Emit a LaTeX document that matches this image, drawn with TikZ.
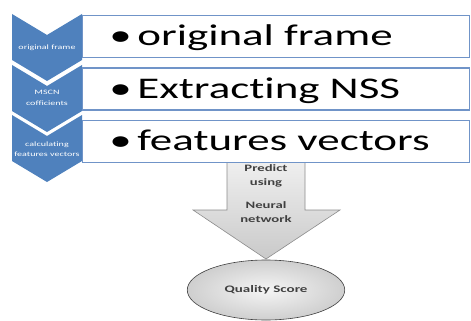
\documentclass[tikz,border=0pt]{standalone}
\usepackage{fontspec}
\setmainfont{Carlito}[Ligatures=NoCommon]
\usepackage{tikz}
\usetikzlibrary{shapes.geometric, positioning, calc}
\definecolor{chevblue}{RGB}{79,129,189}
\definecolor{boxline}{RGB}{112,148,200}
\definecolor{arrowline}{RGB}{140,140,140}
\definecolor{textgray}{RGB}{64,64,64}

\begin{document}
\begin{tikzpicture}[x=1pt, y=-1pt,
  chev/.style={fill=chevblue, draw=none},
  chevtext/.style={text=white, font=\fontsize{6.7}{10.5}\selectfont, align=center, inner sep=0pt, xscale=1.5, transform shape},
  stage/.style={rectangle, draw=boxline, line width=1.3pt, fill=white, minimum width=387pt, minimum height=42pt, inner sep=0pt},
  bigtext/.style={font=\fontsize{30}{36}\selectfont, anchor=base west, inner sep=0pt, xscale=1.5, transform shape},
  predarrow/.style={draw=arrowline, line width=0.6pt, top color=gray!12, bottom color=gray!42},
  arrowtext/.style={text=textgray, font=\bfseries\fontsize{9.8}{14}\selectfont, align=center, xscale=1.5, transform shape},
  score/.style={ellipse, draw=textgray, line width=0.6pt, inner color=gray!8, outer color=gray!38, minimum width=105pt, minimum height=60pt, text=textgray, font=\bfseries\fontsize{10}{12}\selectfont, xscale=1.5, transform shape}
]
\useasboundingbox (0,0) rectangle (471,321);
% chevrons on the left
\fill[chev] (12,14) -- (47,35) -- (82,14) -- (82,60) -- (47,81) -- (12,60) -- cycle;
\fill[chev] (12,65) -- (47,86) -- (82,65) -- (82,111) -- (47,132) -- (12,111) -- cycle;
\fill[chev] (12,115) -- (47,136) -- (82,115) -- (82,161) -- (47,182) -- (12,161) -- cycle;
\node[chevtext] (c1) at (47,48) {original frame};
\node[chevtext] (c2) at (47,98) {MSCN\\cofficients};
\node[chevtext] (c3) at (47,149) {calculating\\features vectors};
% prediction arrow
\draw[predarrow] (227,160) -- (305,160) -- (305,210) -- (340,210) -- (266,259) -- (193,210) -- (227,210) -- cycle;
\node[arrowtext] (pred) at (266,194) {Predict\\using\\[9pt]Neural\\network};
% stage boxes
\node[stage, anchor=north west] (orig) at (82,15) {};
\node[stage, below=9pt of orig] (nss) {};
\node[stage, below=9pt of nss] (feat) {};
\node[bigtext] (t1) at ($(orig.north west)+(27,31)$) {\makebox[18.7pt][l]{\textbullet}original frame};
\node[bigtext] (t2) at ($(nss.north west)+(27,31)$) {\makebox[18.7pt][l]{\textbullet}Extracting NSS};
\node[bigtext] (t3) at ($(feat.north west)+(27,31)$) {\makebox[18.7pt][l]{\textbullet}features vectors};
% result
\node[score] (qs) at (266,290) {Quality Score};
\end{tikzpicture}
\end{document}
